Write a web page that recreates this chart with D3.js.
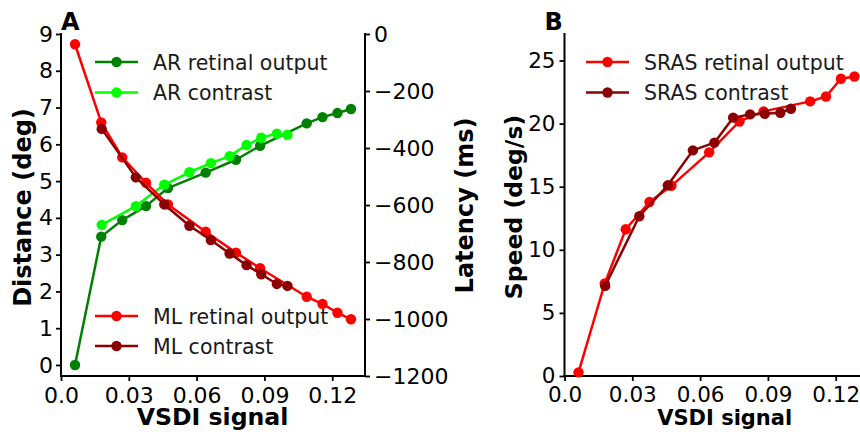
<!DOCTYPE html>
<html>
<head>
<meta charset="utf-8">
<script src="https://cdn.jsdelivr.net/npm/d3@7"></script>
<style>
  html, body { margin: 0; padding: 0; background: #fff; }
  svg { display: block; font-family: "DejaVu Sans", sans-serif; }
</style>
</head>
<body>
<svg id="chart" width="860" height="432"></svg>
<script>
// VSDI signal levels for the two stimulus sets
const xRetinal  = [0.0062, 0.0178, 0.0271, 0.0376, 0.0473, 0.0640, 0.0774, 0.0881, 0.1087, 0.1157, 0.1223, 0.1283];
const xContrast = [0.0180, 0.0331, 0.0457, 0.0568, 0.0663, 0.0746, 0.0821, 0.0886, 0.0955, 0.1002];

// Panel A: anticipatory response distance (deg)
const arRetinal  = [0, 3.49, 3.94, 4.32, 4.81, 5.23, 5.58, 5.96, 6.57, 6.74, 6.85, 6.96];
const arContrast = [3.81, 4.32, 4.90, 5.24, 5.49, 5.68, 5.98, 6.18, 6.29, 6.26];
// Panel A: motion latency (ms), right axis
const mlRetinal  = [-36, -310, -433, -522, -598, -694, -767, -822, -922, -947, -978, -1001];
const mlContrast = [-333, -503, -598, -673, -723, -770, -811, -843, -877, -884];
// Panel B: speed (deg/s)
const srasRetinal  = [0.29, 7.33, 11.63, 13.79, 15.07, 17.72, 20.17, 20.97, 21.76, 22.15, 23.55, 23.73];
const srasContrast = [7.14, 12.66, 15.11, 17.88, 18.49, 20.47, 20.73, 20.78, 20.86, 21.18];

// Tick values
const xTicks = [0, 0.03, 0.06, 0.09, 0.12];
const xTickLabels = ["0.0", "0.03", "0.06", "0.09", "0.12"];
const distTicks = [0, 1, 2, 3, 4, 5, 6, 7, 8, 9];
const latTicks = [0, -200, -400, -600, -800, -1000, -1200];
const speedTicks = [0, 5, 10, 15, 20, 25];

const C = { green: "#008000", lime: "#00ff00", red: "#ff0000", darkred: "#8b0000" };

const svg = d3.select("#chart");

// ---- geometry ----
const A = { left: 61, right: 365, top: 34, bottom: 376 };
const B = { left: 564.5, right: 868.5, top: 34, bottom: 376 };

const xA = d3.scaleLinear().domain([0, 0.1345]).range([A.left, A.right]);
const yDist = d3.scaleLinear().domain([-0.3, 9]).range([A.bottom, A.top]);
const yLat = d3.scaleLinear().domain([-1200, 0]).range([A.bottom, A.top]);
const xB = d3.scaleLinear().domain([0, 0.1345]).range([B.left, B.right]);
const ySpeed = d3.scaleLinear().domain([0, 27.1]).range([B.bottom, B.top]);

const minus = s => s.replace("-", "\u2212");

function styleAxis(g, fontSize) {
  g.select(".domain").remove();
  g.selectAll(".tick line").attr("stroke", "#000").attr("stroke-width", 1.8);
  g.selectAll(".tick text").attr("fill", "#000").attr("font-size", fontSize)
    .attr("font-family", "DejaVu Sans, sans-serif");
}

function spine(x1, y1, x2, y2) {
  svg.append("line").attr("x1", x1).attr("y1", y1).attr("x2", x2).attr("y2", y2)
    .attr("stroke", "#000").attr("stroke-width", 2).attr("stroke-linecap", "square");
}

function series(xs, ys, xs_, ys_, color) {
  const pts = xs.map((x, i) => [xs_(x), ys_(ys[i])]);
  const g = svg.append("g");
  g.append("path").attr("d", d3.line()(pts)).attr("fill", "none")
    .attr("stroke", color).attr("stroke-width", 2.5).attr("stroke-linejoin", "round");
  g.selectAll("circle").data(pts).join("circle")
    .attr("cx", d => d[0]).attr("cy", d => d[1]).attr("r", 5.2).attr("fill", color);
}

function legendRow(x, y, color, label, fontSize) {
  svg.append("line").attr("x1", x).attr("x2", x + 43).attr("y1", y).attr("y2", y)
    .attr("stroke", color).attr("stroke-width", 2.5);
  svg.append("circle").attr("cx", x + 21.5).attr("cy", y).attr("r", 5.2).attr("fill", color);
  svg.append("text").attr("x", x + 58).attr("y", y + 7.5).attr("font-size", fontSize)
    .attr("fill", "#1a1a1a").text(label);
}

// ---- Panel A ----
svg.append("g").attr("transform", `translate(${A.left},0)`)
  .call(d3.axisLeft(yDist).tickValues(distTicks).tickSize(5).tickPadding(3).tickFormat(d3.format("d")))
  .call(g => styleAxis(g, 22));
svg.append("g").attr("transform", `translate(${A.right},0)`)
  .call(d3.axisRight(yLat).tickValues(latTicks).tickSize(5).tickPadding(4).tickFormat(d => minus(String(d))))
  .call(g => styleAxis(g, 22));
svg.append("g").attr("transform", `translate(0,${A.bottom})`)
  .call(d3.axisBottom(xA).tickValues(xTicks).tickSize(5).tickPadding(6).tickFormat((d, i) => xTickLabels[i]))
  .call(g => styleAxis(g, 22));

spine(A.left, A.top, A.left, A.bottom);
spine(A.left, A.bottom, A.right, A.bottom);
spine(A.right, A.top, A.right, A.bottom);

series(xRetinal, arRetinal, xA, yDist, C.green);
series(xContrast, arContrast, xA, yDist, C.lime);
series(xRetinal, mlRetinal, xA, yLat, C.red);
series(xContrast, mlContrast, xA, yLat, C.darkred);

legendRow(95, 62, C.green, "AR retinal output", 20.5);
legendRow(95, 92.5, C.lime, "AR contrast", 20.5);
legendRow(95, 316, C.red, "ML retinal output", 20.5);
legendRow(95, 346, C.darkred, "ML contrast", 20.5);

svg.append("text").attr("x", 212.5).attr("y", 425).attr("text-anchor", "middle")
  .attr("font-size", 23.6).attr("font-weight", "bold").text("VSDI signal");
svg.append("text").attr("transform", "translate(31,207.5) rotate(-90)").attr("text-anchor", "middle")
  .attr("font-size", 24).attr("font-weight", "bold").text("Distance (deg)");
svg.append("text").attr("transform", "translate(473,205.5) rotate(-90)").attr("text-anchor", "middle")
  .attr("font-size", 24).attr("font-weight", "bold").text("Latency (ms)");
svg.append("text").attr("x", 61).attr("y", 30).attr("font-size", 24).attr("font-weight", "bold").text("A");

// ---- Panel B ----
svg.append("g").attr("transform", `translate(${B.left},0)`)
  .call(d3.axisLeft(ySpeed).tickValues(speedTicks).tickSize(5).tickPadding(4).tickFormat(d3.format("d")))
  .call(g => styleAxis(g, 21.5));
svg.append("g").attr("transform", `translate(0,${B.bottom})`)
  .call(d3.axisBottom(xB).tickValues(xTicks).tickSize(5).tickPadding(6).tickFormat((d, i) => xTickLabels[i]))
  .call(g => styleAxis(g, 21.5));

spine(B.left, B.top, B.left, B.bottom);
spine(B.left, B.bottom, B.right, B.bottom);

series(xRetinal, srasRetinal, xB, ySpeed, C.red);
series(xContrast, srasContrast, xB, ySpeed, C.darkred);

legendRow(586, 62, C.red, "SRAS retinal output", 20.5);
legendRow(586, 92.5, C.darkred, "SRAS contrast", 20.5);

svg.append("text").attr("x", 724.7).attr("y", 425).attr("text-anchor", "middle")
  .attr("font-size", 21).attr("font-weight", "bold").text("VSDI signal");
svg.append("text").attr("transform", "translate(521.5,207) rotate(-90)").attr("text-anchor", "middle")
  .attr("font-size", 23.5).attr("font-weight", "bold").text("Speed (deg/s)");
svg.append("text").attr("x", 544.5).attr("y", 30).attr("font-size", 24).attr("font-weight", "bold").text("B");
</script>
</body>
</html>
